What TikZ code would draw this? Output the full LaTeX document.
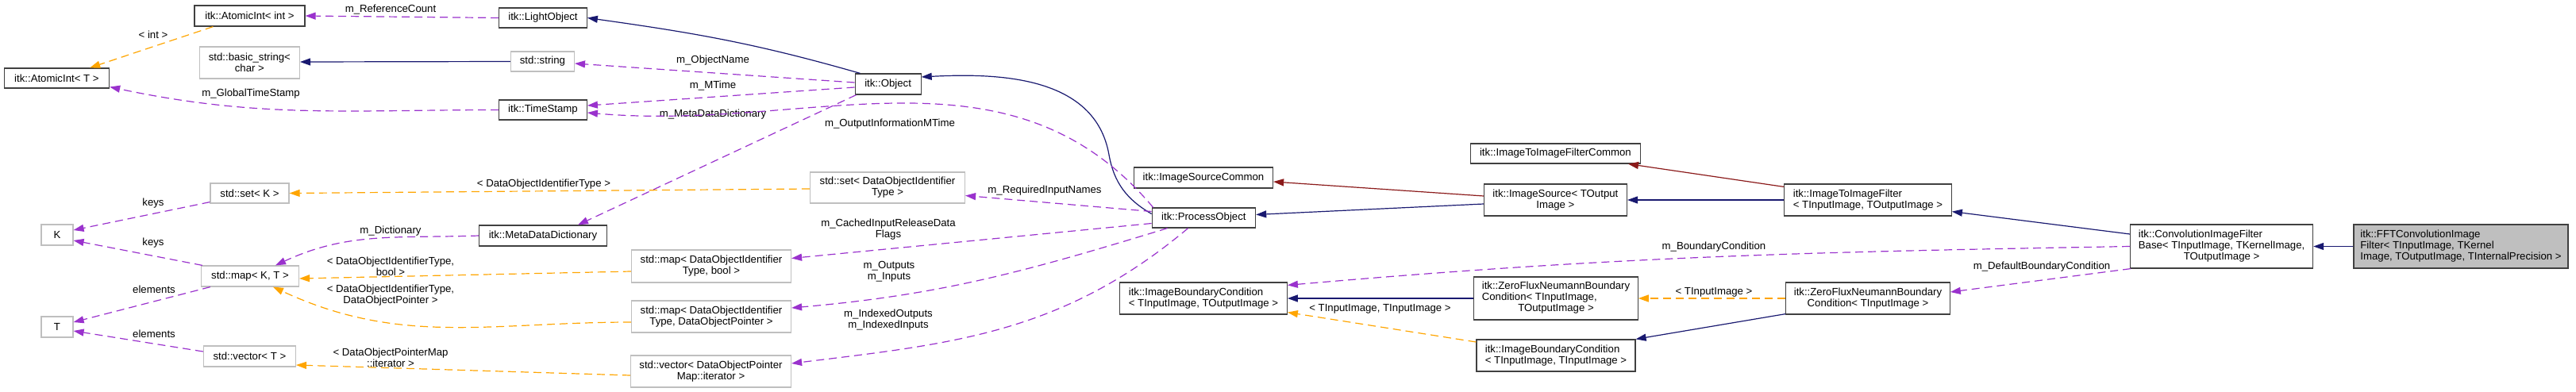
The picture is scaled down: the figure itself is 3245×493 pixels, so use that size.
\documentclass[tikz,border=0pt]{standalone}
\usepackage{fontspec}
\setmainfont{Liberation Sans}
\usetikzlibrary{arrows.meta,calc}
\definecolor{EdgeNavy}{RGB}{25,25,112}
\definecolor{EdgePurple}{RGB}{154,50,205}
\definecolor{EdgeOrange}{RGB}{255,165,0}
\definecolor{EdgeRed}{RGB}{139,26,26}
\definecolor{BoxGray}{RGB}{191,191,191}
\definecolor{BoxLine}{RGB}{64,64,64}

\begin{document}
\begin{tikzpicture}[x=0.5pt, y=-0.5pt,
  every node/.style={font=\fontsize{6.6}{7}\selectfont},
  cls/.style={draw=BoxLine, line width=0.6pt, fill=white, inner sep=2pt, align=center},
  ext/.style={draw=BoxGray, line width=0.6pt, fill=white, inner sep=2pt, align=center},
  lbl/.style={inner sep=0pt, align=center},
  inh/.style={draw=EdgeNavy, line width=0.6pt, -{Triangle[length=6.5pt,width=4.5pt]}},
  use/.style={draw=EdgeRed, line width=0.6pt, -{Triangle[length=6.5pt,width=4.5pt]}},
  dep/.style={draw=EdgePurple, line width=0.6pt, dash pattern=on 5pt off 3pt, -{Triangle[length=6.5pt,width=4.5pt]}},
  tpl/.style={draw=EdgeOrange, line width=0.6pt, dash pattern=on 5pt off 3pt, -{Triangle[length=6.5pt,width=4.5pt]}}]
  \useasboundingbox (0,0) rectangle (3245,493);

  % classes, left to right
  \node[cls, minimum width=66.2pt, minimum height=12.5pt] (aT) at (71.4,98.5) {itk::AtomicInt< T >};
  \node[ext, minimum width=20pt, minimum height=13pt] (K) at (72,296) {K};
  \node[ext, minimum width=20pt, minimum height=13pt] (T) at (72,412) {T};
  \node[cls, minimum width=69.5pt, minimum height=13pt] (aint) at (314.5,20) {itk::AtomicInt< int >};
  \node[ext, minimum width=63pt, minimum height=20pt] (bstr) at (314.4,79) {std::basic\_string<\\char >};
  \node[ext, minimum width=49.5pt, minimum height=12.5pt] (setK) at (314.5,243.5) {std::set< K >};
  \node[ext, minimum width=61.5pt, minimum height=13pt] (mapKT) at (315,348) {std::map< K, T >};
  \node[ext, minimum width=58pt, minimum height=13pt] (vecT) at (314.4,449) {std::vector< T >};
  \node[cls, minimum width=55.3pt, minimum height=12.5pt] (light) at (684,22.5) {itk::LightObject};
  \node[ext, minimum width=40pt, minimum height=12.5pt] (str) at (683.4,77.5) {std::string};
  \node[cls, minimum width=55.3pt, minimum height=12.5pt] (ts) at (684,138.5) {itk::TimeStamp};
  \node[cls, minimum width=80.3pt, minimum height=13pt] (mdd) at (684,297) {itk::MetaDataDictionary};
  \node[ext, minimum width=100.5pt, minimum height=20.5pt] (mapB) at (896,335.5) {std::map< DataObjectIdentifier\\Type, bool >};
  \node[ext, minimum width=100.5pt, minimum height=20pt] (mapP) at (896,399) {std::map< DataObjectIdentifier\\Type, DataObjectPointer >};
  \node[ext, minimum width=101pt, minimum height=20pt] (vecI) at (895.5,468) {std::vector< DataObjectPointer\\Map::iterator >};
  \node[cls, minimum width=41.5pt, minimum height=13pt] (obj) at (1118.6,106) {itk::Object};
  \node[ext, minimum width=97.5pt, minimum height=19.5pt] (setD) at (1118,236.5) {std::set< DataObjectIdentifier\\Type >};
  \node[cls, minimum width=87.5pt, minimum height=13pt] (isc) at (1516,224) {itk::ImageSourceCommon};
  \node[cls, minimum width=65.2pt, minimum height=12.5pt] (po) at (1516.4,274.5) {itk::ProcessObject};
  \node[cls, minimum width=105.3pt, minimum height=20pt, align=left] (ibcO) at (1516,376) {itk::ImageBoundaryCondition\\< TInputImage, TOutputImage >};
  \node[cls, minimum width=107pt, minimum height=12.5pt] (iifc) at (1959.4,193.5) {itk::ImageToImageFilterCommon};
  \node[cls, minimum width=90pt, minimum height=20pt] (isrc) at (1959.4,252) {itk::ImageSource< TOutput\\Image >};
  \node[cls, minimum width=103.2pt, minimum height=27pt] (zfnO) at (1960,376) {\begin{tabular}{@{}l@{}}itk::ZeroFluxNeumannBoundary\\Condition< TInputImage,\\\multicolumn{1}{@{}c@{}}{TOutputImage >}\end{tabular}};
  \node[cls, minimum width=100pt, minimum height=20pt, align=left] (ibcI) at (1960,448) {itk::ImageBoundaryCondition\\< TInputImage, TInputImage >};
  \node[cls, minimum width=105.3pt, minimum height=20pt, align=left] (iif) at (2353,252) {itk::ImageToImageFilter\\< TInputImage, TOutputImage >};
  \node[cls, minimum width=103.2pt, minimum height=20pt] (zfnI) at (2353,376) {itk::ZeroFluxNeumannBoundary\\Condition< TInputImage >};
  \node[cls, minimum width=115pt, minimum height=27.5pt] (conv) at (2798.6,310.5) {\begin{tabular}{@{}l@{}}itk::ConvolutionImageFilter\\Base< TInputImage, TKernelImage,\\\multicolumn{1}{@{}c@{}}{TOutputImage >}\end{tabular}};
  \node[cls, fill=BoxGray, minimum width=135pt, minimum height=27.5pt, align=left] (fft) at (3100,310.5) {itk::FFTConvolutionImage\\Filter< TInputImage, TKernel\\Image, TOutputImage, TInternalPrecision >};

  % inheritance
  \draw[inh] (str.west) -- ($(bstr.east)+(0,-1)$);
  \draw[inh] ($(obj.north west)+(7,0)$) to[out=164,in=-8] (light.east);
  \draw[inh] ($(po.west)+(0,-5)$) to[out=150,in=-80] (1397,195) to[out=100,in=3] ($(obj.east)+(0,-9)$);
  \draw[inh] ($(isrc.west)+(0,5)$) -- ($(po.east)+(0,-4)$);
  \draw[inh] (iif.west) -- (isrc.east);
  \draw[inh] ($(conv.west)+(0,-15.5)$) -- ($(iif.south east)+(0,-6)$);
  \draw[inh] (fft.west) -- (conv.east);
  \draw[inh] (zfnO.west) -- (ibcO.east);
  \draw[inh] ($(zfnI.south west)+(0,-1)$) -- (ibcI.north east);
  \draw[use] ($(isrc.west)+(0,-5)$) -- ($(isc.east)+(0,5)$);
  \draw[use] ($(iif.north west)+(0,4)$) -- ($(iifc.south east)+(-16,0)$);

  % members
  \draw[dep] (light.west) -- (aint.east);
  \node[lbl] (l-ref) at (492,12) {m\_ReferenceCount};
  \draw[dep] ($(obj.west)+(0,-2)$) -- ($(str.east)+(0,2.5)$);
  \node[lbl] (l-name) at (898,76) {m\_ObjectName};
  \draw[dep] ($(obj.west)+(0,4)$) -- ($(ts.east)+(0,-5.5)$);
  \node[lbl] (l-mt) at (898,108) {m\_MTime};
  \draw[dep] ($(obj.south west)+(2,0)$) -- ($(mdd.north)+(44,0)$);
  \node[lbl] (l-mdd) at (898,144) {m\_MetaDataDictionary};
  \draw[dep] ($(po.north west)+(2,0)$) to[out=130,in=-5] ($(ts.east)+(0,3.5)$);
  \node[lbl] (l-oimt) at (1121,156) {m\_OutputInformationMTime};
  \draw[dep] (ts.west) to[out=180,in=-12] ($(aT.east)+(0,11)$);
  \node[lbl] (l-gts) at (316,118) {m\_GlobalTimeStamp};
  \draw[dep] ($(po.west)+(0,-8)$) -- ($(setD.east)+(0,10)$);
  \node[lbl] (l-rin) at (1316,240) {m\_RequiredInputNames};
  \draw[dep] ($(setK.south west)+(0,-2)$) -- ($(K.east)+(0,-6)$);
  \node[lbl] (l-k1) at (193,256) {keys};
  \draw[dep] ($(mapKT.north west)+(2,0)$) -- ($(K.east)+(0,7)$);
  \node[lbl] (l-k2) at (193,306) {keys};
  \draw[dep] ($(mapKT.south west)+(12,0)$) -- ($(T.east)+(0,-6)$);
  \node[lbl] (l-e1) at (194,365) {elements};
  \draw[dep] ($(vecT.west)+(0,-6)$) -- ($(T.east)+(0,5)$);
  \node[lbl] (l-e2) at (194,421) {elements};
  \draw[dep] (mdd.west) to[out=182,in=25] ($(mapKT.north)+(32,0)$);
  \node[lbl] (l-dic) at (492,291) {m\_Dictionary};
  \draw[dep] ($(po.west)+(0,7)$) -- ($(mapB.east)+(0,-10)$);
  \node[lbl] (l-cir) at (1119,289) {m\_CachedInputReleaseData\\Flags};
  \draw[dep] ($(po.south west)+(20,0)$) to[out=-163,in=5] ($(mapP.east)+(0,-11)$);
  \node[lbl] (l-io) at (1120,342) {m\_Outputs\\m\_Inputs};
  \draw[dep] ($(po.south west)+(46,0)$) to[out=-140,in=7] ($(vecI.east)+(0,-10)$);
  \node[lbl] (l-iio) at (1119,403) {m\_IndexedOutputs\\m\_IndexedInputs};
  \draw[dep] (conv.west) to[out=181,in=5] ($(ibcO.north east)+(0,4)$);
  \node[lbl] (l-bc) at (2159,311) {m\_BoundaryCondition};
  \draw[dep] ($(conv.south west)+(1,0)$) -- ($(zfnI.east)+(0,-8)$);
  \node[lbl] (l-dbc) at (2572,336) {m\_DefaultBoundaryCondition};

  % template instances
  \draw[tpl] ($(aint.south west)+(24,0)$) -- ($(aT.north east)+(-25,0)$);
  \node[lbl] (l-int) at (193,44) {< int >};
  \draw[tpl] ($(setD.west)+(0,1.5)$) -- (setK.east);
  \node[lbl] (l-doit) at (685,232) {< DataObjectIdentifierType >};
  \draw[tpl] ($(mapB.west)+(0,6.5)$) -- ($(mapKT.east)+(0,3)$);
  \node[lbl] (l-mb) at (492,336) {< DataObjectIdentifierType,\\bool >};
  \draw[tpl] ($(mapP.west)+(0,7)$) to[out=180,in=-25] ($(mapKT.south)+(29,0)$);
  \node[lbl] (l-mp) at (492,372) {< DataObjectIdentifierType,\\DataObjectPointer >};
  \draw[tpl] ($(vecI.west)+(0,5)$) -- ($(vecT.east)+(0,11)$);
  \node[lbl] (l-vi) at (492,451) {< DataObjectPointerMap\\::iterator >};
  \draw[tpl] (zfnI.west) -- (zfnO.east);
  \node[lbl] (l-ti) at (2159,368) {< TInputImage >};
  \draw[tpl] ($(ibcI.west)+(0,-17)$) -- ($(ibcO.south east)+(0,-3)$);
  \node[lbl] (l-titi) at (1738.5,389) {< TInputImage, TInputImage >};
\end{tikzpicture}
\end{document}
